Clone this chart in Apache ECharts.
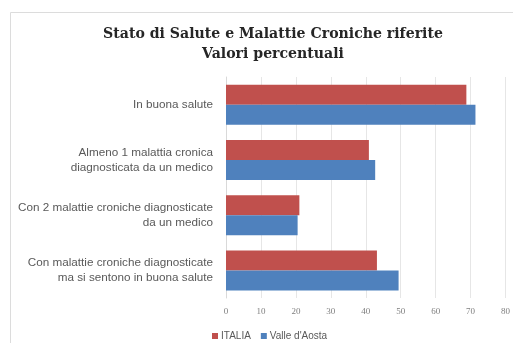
<!DOCTYPE html>
<html>
<head>
<meta charset="utf-8">
<script src="https://cdn.jsdelivr.net/npm/echarts@6/dist/echarts.min.js"></script>
<style>
  html, body { margin: 0; padding: 0; background: #ffffff; }
  #chart { width: 513px; height: 343px; }
</style>
</head>
<body>
<div id="chart"></div>
<script>
// Categories (top to bottom)
const categories = [
  'In buona salute',
  'Almeno 1 malattia cronica\ndiagnosticata da un medico',
  'Con 2 malattie croniche diagnosticate\nda un medico',
  'Con malattie croniche diagnosticate\nma si sentono in buona salute'
];
// Percent values per series
const italia = [68.8, 40.9, 21.0, 43.2];
const valleAosta = [71.4, 42.7, 20.5, 49.4];
const seriesNames = ['ITALIA', "Valle d'Aosta"];
const xTicks = { min: 0, max: 80, interval: 10 };

const chart = echarts.init(document.getElementById('chart'), null, { renderer: 'canvas' });

chart.setOption({
  animation: false,
  backgroundColor: '#ffffff',
  title: {
    text: 'Stato di Salute e Malattie Croniche riferite\nValori percentuali',
    left: 268,
    textAlign: 'center',
    top: 19,
    textStyle: {
      fontFamily: 'DejaVu Serif',
      fontWeight: 'bold',
      fontSize: 14.1,
      lineHeight: 20,
      color: '#262626'
    }
  },
  graphic: [{
    type: 'rect',
    shape: { x: 10.5, y: 12.5, width: 520, height: 340 },
    style: { fill: 'none', stroke: '#dcdcdc', lineWidth: 1 },
    z: -1
  }],
  legend: {
    data: seriesNames,
    left: 207,
    top: 326,
    itemWidth: 6,
    itemHeight: 6,
    itemGap: 10,
    icon: 'rect',
    textStyle: { fontFamily: 'Liberation Sans', fontSize: 10, color: '#595959', padding: [0, 0, 0, -2] }
  },
  grid: { left: 226, right: 6, top: 77, bottom: 45, containLabel: false },
  xAxis: {
    type: 'value',
    min: xTicks.min,
    max: xTicks.max,
    interval: xTicks.interval,
    axisLine: { show: false },
    axisTick: { show: false },
    splitLine: { show: true, lineStyle: { color: '#e6e6e6', width: 1 } },
    axisLabel: { fontFamily: 'Liberation Serif', fontSize: 9, color: '#7f7f7f', margin: 9 }
  },
  yAxis: {
    type: 'category',
    data: categories,
    inverse: true,
    axisLine: { show: true, lineStyle: { color: '#d9d9d9' } },
    axisTick: { show: false },
    axisLabel: {
      fontFamily: 'Liberation Sans',
      fontSize: 11.7,
      lineHeight: 15,
      color: '#595959',
      margin: 13,
      align: 'right'
    }
  },
  series: [
    {
      name: seriesNames[0],
      type: 'bar',
      data: italia,
      barWidth: 20,
      barGap: '0%',
      itemStyle: { color: '#C0504D' }
    },
    {
      name: seriesNames[1],
      type: 'bar',
      data: valleAosta,
      barWidth: 20,
      barGap: '0%',
      itemStyle: { color: '#4F81BD' }
    }
  ]
});
</script>
</body>
</html>
